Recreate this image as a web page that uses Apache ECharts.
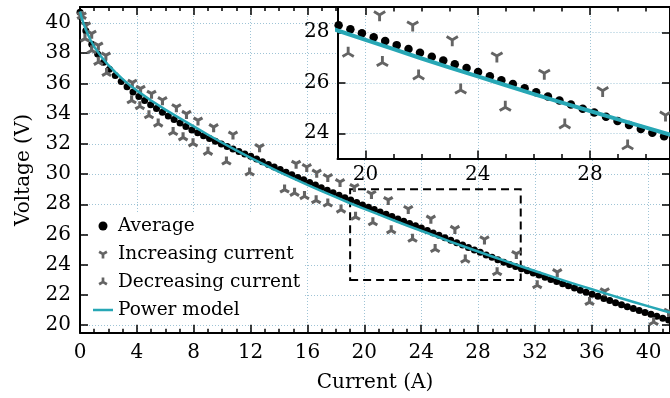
<!DOCTYPE html>
<html>
<head>
<meta charset="utf-8">
<script src="https://cdn.jsdelivr.net/npm/echarts@6/dist/echarts.min.js"></script>
<style>
    html, body { margin: 0; padding: 0; background: #fff; }
    #chart { width: 670px; height: 398px; }
</style>
</head>
<body>
<div id="chart"></div>
<script>
// measured average voltage
var avgCurrent = [0, 0.41, 0.83, 1.24, 1.66, 2.07, 2.48, 2.9, 3.31, 3.73, 4.14, 4.55, 4.97, 5.38, 5.8, 6.21, 6.62, 7.04, 7.45, 7.87,
    8.28, 8.69, 9.11, 9.52, 9.94, 10.35, 10.76, 11.18, 11.59, 12.01, 12.42, 12.83, 13.25, 13.66, 14.08, 14.49, 14.9, 15.32, 15.73, 16.15,
    16.56, 16.97, 17.39, 17.8, 18.22, 18.63, 19.04, 19.46, 19.87, 20.29, 20.7, 21.11, 21.53, 21.94, 22.36, 22.77, 23.18, 23.6, 24.01, 24.43,
    24.84, 25.25, 25.67, 26.08, 26.5, 26.91, 27.32, 27.74, 28.15, 28.57, 28.98, 29.39, 29.81, 30.22, 30.64, 31.05, 31.46, 31.88, 32.29, 32.71,
    33.12, 33.53, 33.95, 34.36, 34.78, 35.19, 35.6, 36.02, 36.43, 36.85, 37.26, 37.67, 38.09, 38.5, 38.92, 39.33, 39.74, 40.16, 40.57, 40.99, 41.4];
var avgVoltage = [40.7, 39.48, 38.58, 37.94, 37.39, 36.93, 36.52, 36.13, 35.77, 35.42, 35.13, 34.86, 34.59, 34.34, 34.08, 33.84, 33.61, 33.38, 33.15, 32.92,
    32.73, 32.54, 32.35, 32.17, 31.99, 31.83, 31.66, 31.49, 31.33, 31.17, 30.99, 30.81, 30.64, 30.47, 30.3, 30.12, 29.95, 29.78, 29.62, 29.44,
    29.27, 29.1, 28.93, 28.77, 28.6, 28.44, 28.28, 28.12, 27.96, 27.8, 27.65, 27.49, 27.34, 27.19, 27.03, 26.88, 26.73, 26.58, 26.43, 26.26,
    26.1, 25.95, 25.78, 25.62, 25.46, 25.3, 25.14, 24.97, 24.82, 24.65, 24.49, 24.33, 24.17, 24.02, 23.88, 23.73, 23.6, 23.45, 23.32, 23.17,
    23.03, 22.89, 22.75, 22.61, 22.47, 22.32, 22.19, 22.05, 21.91, 21.77, 21.63, 21.49, 21.35, 21.23, 21.1, 20.97, 20.85, 20.72, 20.59, 20.47, 20.35];

var incCurrent = [0.12, 0.42, 0.82, 1.29, 1.82, 3.68, 4.26, 5.03, 5.8, 6.78, 7.49, 8.3, 9.4, 10.76, 12.63, 15.2, 15.95, 16.65, 17.43, 18.29,
    19.3, 20.5, 21.68, 23.09, 24.68, 26.37, 28.45, 30.69, 33.57, 36.91, 41.4];
var incVoltage = [40.5, 39.84, 39.29, 38.51, 37.85, 36.05, 35.65, 35.32, 34.9, 34.43, 33.99, 33.55, 33.11, 32.62, 31.79, 30.69, 30.47, 30.1, 29.81, 29.48,
    29.15, 28.69, 28.29, 27.7, 27.06, 26.38, 25.69, 24.72, 23.52, 22.26, 20.9];

var decCurrent = [0.12, 0.35, 0.82, 1.29, 1.87, 3.63, 4.21, 4.85, 5.5, 6.55, 7.25, 7.95, 9.0, 10.3, 11.93, 14.39, 15.09, 15.79, 16.61, 17.43,
    18.36, 19.38, 20.6, 21.89, 23.39, 24.98, 27.1, 29.34, 32.16, 35.84, 40.35];
var decVoltage = [40.45, 38.96, 38.18, 37.41, 36.68, 34.87, 34.48, 33.88, 33.33, 32.77, 32.42, 32.02, 31.46, 30.82, 30.1, 28.97, 28.75, 28.53, 28.26, 28.04,
    27.64, 27.17, 26.8, 26.27, 25.71, 25.03, 24.33, 23.5, 22.64, 21.53, 20.21];

// fitted power model
var modelCurrent = [0, 0.1, 0.25, 0.5, 0.75, 1, 1.5, 2, 2.5, 3, 3.5, 4, 5, 6, 7, 8, 9, 10, 11, 12, 13, 14, 15, 16, 17, 18, 19, 20,
    21, 22, 23, 24, 25, 26, 27, 28, 29, 30, 31, 32, 33, 34, 35, 36, 37, 38, 39, 40, 41, 41.5];
var modelVoltage = [40.75, 40.4, 39.95, 39.35, 38.85, 38.42, 37.75, 37.2, 36.72, 36.28, 35.88, 35.52, 34.87, 34.26, 33.7, 33.15, 32.6, 32.07, 31.56, 31.07,
    30.6, 30.15, 29.71, 29.29, 28.87, 28.47, 28.07, 27.7, 27.33, 26.96, 26.6, 26.25, 25.9, 25.55, 25.21, 24.88, 24.55, 24.22, 23.9, 23.59,
    23.28, 22.97, 22.67, 22.38, 22.09, 21.8, 21.52, 21.25, 20.98, 20.84];

var xMajor = [0, 4, 8, 12, 16, 20, 24, 28, 32, 36, 40];
var xMinor = [1, 2, 3, 5, 6, 7, 9, 10, 11, 13, 14, 15, 17, 18, 19, 21, 22, 23, 25, 26, 27, 29, 30, 31, 33, 34, 35, 37, 38, 39, 41];
var yMajor = [20, 22, 24, 26, 28, 30, 32, 34, 36, 38, 40];
var insetXMajor = [20, 24, 28];
var insetXMinor = [21, 22, 23, 25, 26, 27, 29, 30];
var insetYMajor = [24, 26, 28];
var zoomBox = [19, 31, 23, 29]; // x0, x1, y0, y1

var FONT = 'DejaVu Serif';
var GRID_COLOR = '#9fc4d6';
var GREY = '#646464';
var CYAN = '#27a7b5';
// matplotlib style tri_down / tri_up, a fat one for the main plot and a thinner one for the inset
var TRI_DOWN_FAT = 'path://M0.3 0.173L0.3 1L-0.3 1L-0.3 0.173L-1.016 -0.24L-0.716 -0.76L0 -0.346L0.716 -0.76L1.016 -0.24Z M0 -1L0.01 -1L0 -0.99Z';
var TRI_UP_FAT = 'path://M0.3 -0.173L0.3 -1L-0.3 -1L-0.3 -0.173L-1.016 0.24L-0.716 0.76L0 0.346L0.716 0.76L1.016 0.24Z M0 1L0.01 1L0 0.99Z';
var TRI_DOWN = 'path://M0.22 0.127L0.22 1L-0.22 1L-0.22 0.127L-0.976 -0.309L-0.756 -0.691L0 -0.254L0.756 -0.691L0.976 -0.309Z M0 -1L0.01 -1L0 -0.99Z';
var TRI_UP = 'path://M0.22 -0.127L0.22 -1L-0.22 -1L-0.22 -0.127L-0.976 0.309L-0.756 0.691L0 0.254L0.756 0.691L0.976 0.309Z M0 1L0.01 1L0 0.99Z';

function pairs(xs, ys) {
    return xs.map(function (x, i) { return [x, ys[i]]; });
}

function makeAxis(o) {
    var ax = {
        type: 'value',
        gridIndex: o.grid,
        position: o.pos,
        min: o.min,
        max: o.max,
        z: o.z || 0,
        axisLine: { show: o.line !== false, onZero: false, lineStyle: { color: '#000', width: 2 } },
        axisTick: { show: true, inside: true, length: o.len, customValues: o.ticks, lineStyle: { color: '#000', width: 1.5 } },
        axisLabel: { show: false },
        splitLine: { show: false }
    };
    if (o.labels) {
        ax.axisLabel = { show: true, customValues: o.labels, color: '#000', fontFamily: FONT, fontSize: 20, margin: o.margin };
    }
    if (o.split) {
        ax.splitLine = { show: true, lineStyle: { color: GRID_COLOR, type: [1, 2], width: 1 } };
    }
    if (o.name) {
        ax.name = o.name;
        ax.nameLocation = 'middle';
        ax.nameGap = o.nameGap;
        ax.nameTextStyle = { color: '#000', fontFamily: FONT, fontSize: 20 };
    }
    return ax;
}

var xAxes = [
    makeAxis({ grid: 0, pos: 'bottom', min: 0, max: 41.5, ticks: xMajor, len: 8, labels: xMajor, margin: 10, split: true, name: 'Current (A)', nameGap: 40 }),
    makeAxis({ grid: 0, pos: 'bottom', min: 0, max: 41.5, ticks: xMinor, len: 4, line: false }),
    makeAxis({ grid: 0, pos: 'top', min: 0, max: 41.5, ticks: xMajor, len: 8 }),
    makeAxis({ grid: 0, pos: 'top', min: 0, max: 41.5, ticks: xMinor, len: 4, line: false }),
    makeAxis({ grid: 1, pos: 'bottom', min: zoomBox[0], max: 30.85, ticks: insetXMajor, len: 8, labels: insetXMajor, margin: 6, split: true, z: 6 }),
    makeAxis({ grid: 1, pos: 'bottom', min: zoomBox[0], max: 30.85, ticks: insetXMinor, len: 4.5, line: false, z: 6 }),
    makeAxis({ grid: 1, pos: 'top', min: zoomBox[0], max: 30.85, ticks: insetXMajor, len: 8, z: 6 }),
    makeAxis({ grid: 1, pos: 'top', min: zoomBox[0], max: 30.85, ticks: insetXMinor, len: 4.5, line: false, z: 6 })
];
var yAxes = [
    makeAxis({ grid: 0, pos: 'left', min: 19.5, max: 41.05, ticks: yMajor, len: 8, labels: yMajor, margin: 9, split: true, name: 'Voltage (V)', nameGap: 46 }),
    makeAxis({ grid: 0, pos: 'right', min: 19.5, max: 41.05, ticks: yMajor, len: 8 }),
    makeAxis({ grid: 1, pos: 'left', min: zoomBox[2], max: zoomBox[3], ticks: insetYMajor, len: 8, labels: insetYMajor, margin: 8, split: true, z: 6 }),
    makeAxis({ grid: 1, pos: 'right', min: zoomBox[2], max: zoomBox[3], ticks: insetYMajor, len: 8, z: 6 })
];

function dataSeries(xi, yi, big, z) {
    return [
        {
            name: 'Average', type: 'scatter', xAxisIndex: xi, yAxisIndex: yi, z: z,
            data: pairs(avgCurrent, avgVoltage),
            symbol: 'circle', symbolSize: big ? 8.5 : 7,
            itemStyle: { color: '#000', opacity: 1 }
        },
        {
            name: 'Increasing current', type: 'scatter', xAxisIndex: xi, yAxisIndex: yi, z: z,
            data: pairs(incCurrent, incVoltage),
            symbol: big ? TRI_DOWN : TRI_DOWN_FAT, symbolKeepAspect: true, symbolSize: big ? 13 : 10.5,
            itemStyle: { color: GREY, opacity: 1 }
        },
        {
            name: 'Decreasing current', type: 'scatter', xAxisIndex: xi, yAxisIndex: yi, z: z,
            data: pairs(decCurrent, decVoltage),
            symbol: big ? TRI_UP : TRI_UP_FAT, symbolKeepAspect: true, symbolSize: big ? 13 : 10.5,
            itemStyle: { color: GREY, opacity: 1 }
        },
        {
            name: 'Power model', type: 'line', xAxisIndex: xi, yAxisIndex: yi, z: z + 1,
            data: pairs(modelCurrent, modelVoltage),
            symbol: 'none', showSymbol: false, smooth: false,
            lineStyle: { color: CYAN, width: big ? 4 : 2.5, join: 'round' },
            itemStyle: { color: CYAN }
        }
    ];
}

var mainSeries = dataSeries(0, 0, false, 2);
// dashed box marking the zoomed region
mainSeries[3].markArea = {
    silent: true,
    itemStyle: { color: 'rgba(0,0,0,0)', borderColor: '#000', borderWidth: 2, borderType: [8, 5] },
    data: [[{ coord: [zoomBox[0], zoomBox[2]] }, { coord: [zoomBox[1], zoomBox[3]] }]]
};
var insetSeries = dataSeries(4, 2, true, 10);

var chart = echarts.init(document.getElementById('chart'));
chart.setOption({
    animation: false,
    backgroundColor: '#fff',
    grid: [
        { left: 80, top: 7, width: 592, height: 325.8 },
        { left: 337.5, top: 7, width: 335, height: 151.5 }
    ],
    xAxis: xAxes,
    yAxis: yAxes,
    graphic: [{
        type: 'rect', silent: true, z: 5,
        shape: { x: 337.5, y: 7, width: 335, height: 151.5 },
        style: { fill: '#fff' }
    }],
    legend: {
        orient: 'vertical',
        left: 89,
        top: 212,
        backgroundColor: '#fff',
        padding: [4, 4, 4, 4],
        itemWidth: 20,
        itemHeight: 9,
        itemGap: 8,
        textStyle: { fontFamily: FONT, fontSize: 18.5, color: '#000', lineHeight: 20 },
        data: [
            'Average',
            'Increasing current',
            'Decreasing current',
            { name: 'Power model', icon: 'path://M0 0L20 0L20 2.5L0 2.5Z' }
        ]
    },
    series: mainSeries.concat(insetSeries)
});
</script>
</body>
</html>
